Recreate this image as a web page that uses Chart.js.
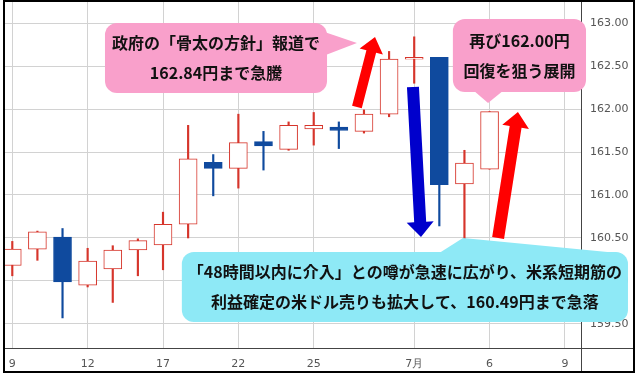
<!DOCTYPE html>
<html>
<head>
<meta charset="utf-8">
<script src="https://cdn.jsdelivr.net/npm/chart.js@4.4.1/dist/chart.umd.min.js"></script>
<style>
    body { margin: 0; background: #fff; }
    #frame {
        position: absolute; left: 3px; top: 0;
        width: 628px; height: 369px;
        border: 2px solid #000;
    }
    canvas { display: block; }
</style>
</head>
<body>
<div id="frame"><canvas id="fxChart" width="628" height="369"></canvas></div>
<script>
// candle index -> position on the x axis; ticks only where a date label is shown
const tickPositions = [0, 3, 6, 9, 12, 16, 19, 22];
const tickLabels = ['9', '12', '17', '22', '25', '7月', '6', '9'];
const yTicks = [159.5, 160, 160.5, 161, 161.5, 162, 162.5, 163];

const opens  = [160.18, 160.37, 160.51, 159.95, 160.14, 160.36, 160.42, 160.66, 161.38, 161.31,
                161.62, 161.53, 161.77, 161.79, 161.74, 161.94, 162.58, 162.60, 161.13, 161.30];
const highs  = [160.46, 160.58, 160.61, 160.38, 160.41, 160.49, 160.80, 161.81, 161.47, 161.94,
                161.74, 161.85, 161.96, 161.85, 161.99, 162.67, 162.84, 162.60, 161.52, 161.97];
const lows   = [160.06, 160.24, 159.57, 159.93, 159.75, 160.06, 160.13, 160.50, 160.99, 161.08,
                161.29, 161.52, 161.58, 161.54, 161.72, 161.91, 162.30, 160.64, 160.49, 161.30];
const closes = [160.37, 160.57, 159.99, 160.23, 160.36, 160.47, 160.66, 161.42, 161.31, 161.61,
                161.57, 161.81, 161.81, 161.75, 161.94, 162.58, 162.60, 161.12, 161.37, 161.97];

// callouts: [left idx, right idx, top value, bottom value], pointer given as 3 points (idx, value)
const calloutTexts = [
    ['政府の「骨太の方針」報道で', '162.84円まで急騰'],
    ['再び162.00円', '回復を狙う展開'],
    ['「48時間以内に介入」との噂が急速に広がり、米系短期筋の', '利益確定の米ドル売りも拡大して、160.49円まで急落']
];
const calloutBoxes = [
    [3.69, 12.53, 163.0, 162.186],
    [17.54, 22.84, 163.047, 162.198],
    [6.75, 24.51, 160.337, 159.523]
];
const calloutPointers = [
    [[12.4, 162.90], [13.72, 162.767], [12.4, 162.62]],
    [[18.42, 162.20], [18.94, 162.07], [19.49, 162.20]],
    [[17.03, 160.33], [17.94, 160.50], [23.9, 160.33]]
];
const calloutColors = ['#f9a0cb', '#f9a0cb', '#8ee9f6'];

// arrows: tail (idx, value) -> tip (idx, value)
const arrowTails = [[13.72, 162.023], [15.95, 162.256], [19.34, 160.50]];
const arrowTips  = [[14.44, 162.837], [16.27, 160.512], [20.13, 161.965]];
const arrowColors = ['#ff0000', '#0000cc', '#ff0000'];
const arrowSizes = [[10, 24, 15], [12, 27, 15], [12, 27, 15]]; // shaft, head width, head length

const upColor = '#d6352b';
const downColor = '#0f4a9e';

const candleIdx = opens.map((v, i) => i);
const isUp = candleIdx.map(i => closes[i] >= opens[i]);

const wickData = candleIdx.map(i => ({ x: i, y: [lows[i], highs[i]] }));
const bodyData = candleIdx.map(i => ({ x: i, y: [opens[i], closes[i]] }));

function roundRect(ctx, x1, y1, x2, y2, r) {
    ctx.moveTo(x1 + r, y1);
    ctx.arcTo(x2, y1, x2, y2, r);
    ctx.arcTo(x2, y2, x1, y2, r);
    ctx.arcTo(x1, y2, x1, y1, r);
    ctx.arcTo(x1, y1, x2, y1, r);
    ctx.closePath();
}

function drawArrow(ctx, x1, y1, x2, y2, color, size) {
    const [shaftW, headW, headL] = size;
    const len = Math.hypot(x2 - x1, y2 - y1);
    const dx = (x2 - x1) / len, dy = (y2 - y1) / len;
    const nx = -dy, ny = dx;
    const bx = x2 - dx * headL, by = y2 - dy * headL;
    ctx.beginPath();
    ctx.moveTo(x1 + nx * shaftW / 2, y1 + ny * shaftW / 2);
    ctx.lineTo(bx + nx * shaftW / 2, by + ny * shaftW / 2);
    ctx.lineTo(bx + nx * headW / 2, by + ny * headW / 2);
    ctx.lineTo(x2, y2);
    ctx.lineTo(bx - nx * headW / 2, by - ny * headW / 2);
    ctx.lineTo(bx - nx * shaftW / 2, by - ny * shaftW / 2);
    ctx.lineTo(x1 - nx * shaftW / 2, y1 - ny * shaftW / 2);
    ctx.closePath();
    ctx.fillStyle = color;
    ctx.fill();
}

const annotationPlugin = {
    id: 'annotations',
    afterDraw(chart) {
        const ctx = chart.ctx;
        const xs = chart.scales.x, ys = chart.scales.y;
        const area = chart.chartArea;
        const px = v => xs.getPixelForValue(v);
        const py = v => ys.getPixelForValue(v);

        ctx.save();
        // frame lines of the plot, running out to the outer border
        ctx.strokeStyle = '#444';
        ctx.lineWidth = 1;
        ctx.beginPath();
        ctx.moveTo(0, Math.round(area.bottom) + 0.5);
        ctx.lineTo(chart.width, Math.round(area.bottom) + 0.5);
        ctx.moveTo(Math.round(area.right) + 0.5, 0);
        ctx.lineTo(Math.round(area.right) + 0.5, chart.height);
        ctx.stroke();

        arrowTails.forEach((t, k) => {
            drawArrow(ctx, px(t[0]), py(t[1]), px(arrowTips[k][0]), py(arrowTips[k][1]),
                arrowColors[k], arrowSizes[k]);
        });

        calloutBoxes.forEach((b, k) => {
            const x1 = px(b[0]), x2 = px(b[1]), y1 = py(b[2]), y2 = py(b[3]);
            ctx.fillStyle = calloutColors[k];
            ctx.beginPath();
            roundRect(ctx, x1, y1, x2, y2, 12);
            ctx.fill();
            const p = calloutPointers[k];
            ctx.beginPath();
            ctx.moveTo(px(p[0][0]), py(p[0][1]));
            ctx.lineTo(px(p[1][0]), py(p[1][1]));
            ctx.lineTo(px(p[2][0]), py(p[2][1]));
            ctx.closePath();
            ctx.fill();

            ctx.fillStyle = '#111';
            ctx.font = 'bold 16px "Noto Sans CJK JP"';
            ctx.textAlign = 'center';
            ctx.textBaseline = 'middle';
            const cx = (x1 + x2) / 2, cy = (y1 + y2) / 2;
            const lines = calloutTexts[k];
            ctx.fillText(lines[0], cx, cy - 15);
            ctx.fillText(lines[1], cx, cy + 15);
        });
        ctx.restore();
    }
};

new Chart(document.getElementById('fxChart'), {
    type: 'bar',
    data: {
        datasets: [
            {
                label: 'wick',
                data: wickData,
                backgroundColor: candleIdx.map(i => isUp[i] ? upColor : downColor),
                borderWidth: 0,
                barThickness: 1.5,
                grouped: false,
                order: 2
            },
            {
                label: 'body',
                data: bodyData,
                backgroundColor: candleIdx.map(i => isUp[i] ? '#ffffff' : downColor),
                borderColor: candleIdx.map(i => isUp[i] ? upColor : downColor),
                borderWidth: 1,
                borderSkipped: false,
                barThickness: 18,
                grouped: false,
                order: 1
            }
        ]
    },
    options: {
        responsive: false,
        animation: false,
        devicePixelRatio: 1,
        layout: { padding: 0 },
        plugins: {
            legend: { display: false },
            tooltip: { enabled: false }
        },
        scales: {
            x: {
                type: 'linear',
                offset: false,
                min: -0.29,
                max: 22.64,
                afterBuildTicks: scale => { scale.ticks = tickPositions.map(v => ({ value: v })); },
                afterFit: scale => {
                    scale.height = 23;
                    scale.paddingLeft = 0;
                    scale.paddingRight = 0;
                },
                grid: { color: '#d2d2d2', drawTicks: false, offset: false },
                border: { display: false },
                ticks: {
                    padding: 10,
                    color: '#555',
                    font: { family: 'DejaVu Sans', size: 11 },
                    maxRotation: 0,
                    autoSkip: false,
                    callback: v => tickLabels[tickPositions.indexOf(v)]
                }
            },
            y: {
                position: 'right',
                min: 159.22,
                max: 163.245,
                afterBuildTicks: scale => { scale.ticks = yTicks.map(v => ({ value: v })); },
                afterFit: scale => {
                    scale.width = 52;
                    scale.paddingTop = 0;
                    scale.paddingBottom = 0;
                },
                grid: { color: '#d2d2d2', drawTicks: false },
                border: { display: false },
                ticks: {
                    padding: 9,
                    color: '#555',
                    font: { family: 'DejaVu Sans', size: 11 },
                    callback: v => v.toFixed(2)
                }
            }
        }
    },
    plugins: [annotationPlugin]
});
</script>
</body>
</html>
